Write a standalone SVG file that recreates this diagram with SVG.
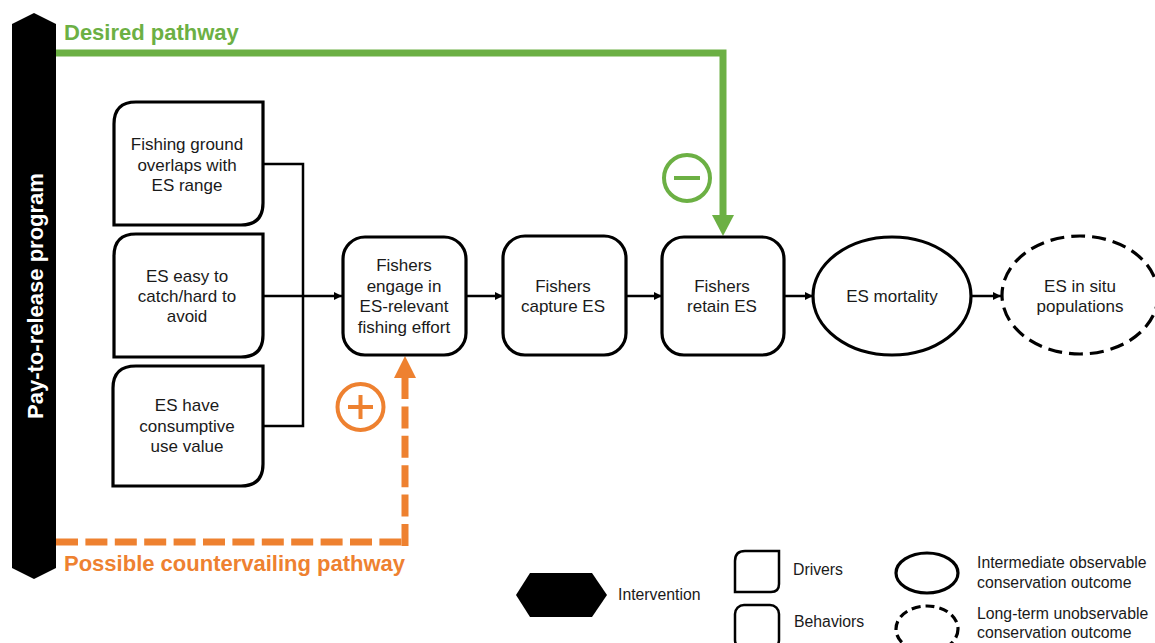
<svg xmlns="http://www.w3.org/2000/svg" width="1155" height="643" viewBox="0 0 1155 643">
<style>
text{font-family:"Liberation Sans",Arial,sans-serif;font-size:17px;fill:#1a1a1a;text-anchor:middle}
.shape{fill:#fff;stroke:#000;stroke-width:3.2}
.dash{stroke-dasharray:14 7}
.conn{fill:none;stroke:#000;stroke-width:2.5}
.leg{font-size:15.8px;text-anchor:start}
.green{fill:#6cb044}
.orange{fill:#ee8130}
.path{font-size:22px;font-weight:bold;text-anchor:start}
</style>
<defs>
<marker id="ah" markerUnits="userSpaceOnUse" markerWidth="9" markerHeight="9" refX="8" refY="4.5" orient="auto"><path d="M0 0.5L8 4.5L0 8.5Z" fill="#000"/></marker>
</defs>
<rect width="1155" height="643" fill="#fff"/>
<g id="connectors">
<path class="conn" d="M263 164H303V426H263"/>
<path class="conn" d="M263 296H342" marker-end="url(#ah)"/>
<path class="conn" d="M466 296H503" marker-end="url(#ah)"/>
<path class="conn" d="M626 296H662" marker-end="url(#ah)"/>
<path class="conn" d="M784 296H813" marker-end="url(#ah)"/>
<path class="conn" d="M972 296H1001" marker-end="url(#ah)"/>
<path d="M56 53H723V216" fill="none" stroke="#6cb044" stroke-width="7"/>
<path class="green" d="M712 215H734L723 236Z"/>
<path d="M56 542H405" fill="none" stroke="#ee8130" stroke-width="7" stroke-dasharray="22 7.4"/>
<path d="M405 546V378" fill="none" stroke="#ee8130" stroke-width="7" stroke-dasharray="22 7.4"/>
<path class="orange" d="M394 378H416L405 356Z"/>
</g>
<g id="program">
<path d="M12 24L34 13L56 24V568L34 579L12 568Z" fill="#000"/>
<text transform="translate(43 296) rotate(-90)" style="fill:#fff;font-size:22px;font-weight:bold">Pay-to-release program</text>
</g>
<g id="label-desired"><text class="path" x="64" y="40" style="fill:#6cb044">Desired pathway</text></g>
<g id="label-countervailing"><text class="path" x="64" y="571" style="fill:#ee8130">Possible countervailing pathway</text></g>
<g id="driver-overlap">
<path class="shape" d="M136 102H263V203Q263 225 241 225H114V124Q114 102 136 102Z"/>
<text x="187" y="150">Fishing ground</text><text x="187" y="171">overlaps with</text><text x="187" y="191">ES range</text>
</g>
<g id="driver-easy">
<path class="shape" d="M136 234H263V335Q263 357 241 357H114V256Q114 234 136 234Z"/>
<text x="187" y="282">ES easy to</text><text x="187" y="302">catch/hard to</text><text x="187" y="322">avoid</text>
</g>
<g id="driver-value">
<path class="shape" d="M136 366H263V464Q263 486 241 486H113V388Q113 366 136 366Z"/>
<text x="187" y="411">ES have</text><text x="187" y="432">consumptive</text><text x="187" y="452">use value</text>
</g>
<g id="behavior-effort">
<rect class="shape" x="343" y="237" width="123" height="118" rx="22"/>
<text x="404" y="271">Fishers</text><text x="404" y="292">engage in</text><text x="404" y="312">ES-relevant</text><text x="404" y="333">fishing effort</text>
</g>
<g id="behavior-capture">
<rect class="shape" x="503" y="236" width="123" height="119" rx="22"/>
<text x="563" y="292">Fishers</text><text x="563" y="312">capture ES</text>
</g>
<g id="behavior-retain">
<rect class="shape" x="662" y="237" width="122" height="118" rx="22"/>
<text x="722" y="292">Fishers</text><text x="722" y="312">retain ES</text>
</g>
<g id="outcome-mortality">
<ellipse class="shape" cx="892" cy="296" rx="79" ry="59"/>
<text x="892" y="302">ES mortality</text>
</g>
<g id="outcome-populations">
<ellipse class="shape dash" cx="1080" cy="295" rx="78" ry="59"/>
<text x="1080" y="292">ES in situ</text><text x="1080" y="312">populations</text>
</g>
<g id="sign-minus" fill="none" stroke="#6cb044" stroke-width="4">
<circle cx="687" cy="178" r="23"/><path d="M674 178H700"/>
</g>
<g id="sign-plus" fill="none" stroke="#ee8130" stroke-width="4">
<circle cx="360.500" cy="407" r="23"/><path d="M348 407H373M360.500 395V419"/>
</g>
<g id="legend-intervention">
<path d="M516 595L530 573H592L607 595L592 617H530Z" fill="#000"/>
<text class="leg" x="618" y="600">Intervention</text>
</g>
<g id="legend-drivers">
<path class="shape" d="M745 551H779V584Q779 592 771 592H735V561Q735 551 745 551Z" style="stroke-width:2.500"/>
<text class="leg" x="793" y="575">Drivers</text>
</g>
<g id="legend-behaviors">
<rect class="shape" x="735" y="605" width="44" height="44" rx="9" style="stroke-width:2.500"/>
<text class="leg" x="794" y="627">Behaviors</text>
</g>
<g id="legend-intermediate">
<ellipse class="shape" cx="927" cy="573" rx="31" ry="20"/>
<text class="leg" x="977" y="568">Intermediate observable</text><text class="leg" x="977" y="588">conservation outcome</text>
</g>
<g id="legend-longterm">
<ellipse class="shape" cx="927" cy="629" rx="31" ry="23" stroke-dasharray="9 5"/>
<text class="leg" x="977" y="619">Long-term unobservable</text><text class="leg" x="977" y="638">conservation outcome</text>
</g>
</svg>
